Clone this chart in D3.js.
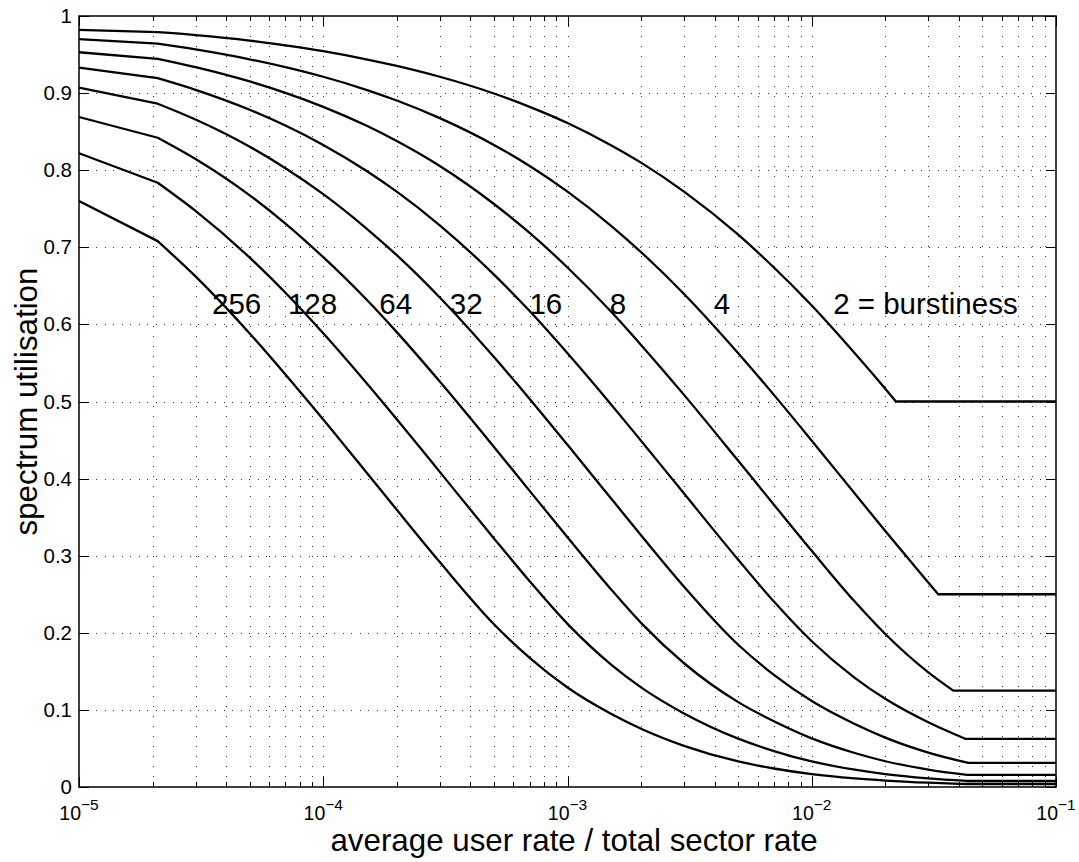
<!DOCTYPE html>
<html>
<head>
<meta charset="utf-8">
<script src="https://cdn.jsdelivr.net/npm/d3@7"></script>
<style>
  html, body { margin: 0; padding: 0; background: #fff; }
  svg text { font-family: "Liberation Sans", Arial, Helvetica, sans-serif; fill: #000; }
</style>
</head>
<body>
<svg id="chart" width="1079" height="862"></svg>
<script>
// ---- data -------------------------------------------------------------
// burstiness of each curve
const burstiness = [2, 4, 8, 16, 32, 64, 128, 256];

// [average user rate / total sector rate, spectrum utilisation]
const curve2 = [[1e-5,0.982],[2.1e-5,0.979],[3e-5,0.9753],[5e-5,0.9682],[7e-5,0.9620],[1e-4,0.9544],[1.5e-4,0.9439],[2e-4,0.9353],[3e-4,0.9212],[5e-4,0.8995],[7e-4,0.8822],[1e-3,0.8612],[1.5e-3,0.8328],[2e-3,0.8098],[3e-3,0.7722],[5e-3,0.7163],[7e-3,0.6738],[1e-2,0.6245],[1.5e-2,0.5626],[2e-2,0.5166],[0.0221,0.5],[0.1,0.5]];
const curve4 = [[1e-5,0.970],[2.1e-5,0.9641],[3e-5,0.9567],[5e-5,0.9439],[7e-5,0.9337],[1e-4,0.9212],[1.5e-4,0.9043],[2e-4,0.8904],[3e-4,0.8676],[5e-4,0.8328],[7e-4,0.8055],[1e-3,0.7722],[1.5e-3,0.7285],[2e-3,0.6938],[3e-3,0.6395],[5e-3,0.5626],[7e-3,0.5086],[1e-2,0.4492],[1.5e-2,0.3806],[2e-2,0.3320],[3e-2,0.2651],[0.0329,0.25],[0.1,0.25]];
const curve8 = [[1e-5,0.953],[2.1e-5,0.9445],[3e-5,0.9337],[5e-5,0.9151],[7e-5,0.9004],[1e-4,0.8822],[1.5e-4,0.8579],[2e-4,0.8379],[3e-4,0.8055],[5e-4,0.7562],[7e-4,0.7186],[1e-3,0.6738],[1.5e-3,0.6173],[2e-3,0.5734],[3e-3,0.5086],[5e-3,0.4231],[7e-3,0.3662],[1e-2,0.3063],[1.5e-2,0.2405],[2e-2,0.1984],[3e-2,0.1487],[0.0380,0.125],[0.1,0.125]];
const curve16 = [[1e-5,0.933],[2.1e-5,0.9194],[3e-5,0.9043],[5e-5,0.8784],[7e-5,0.8579],[1e-4,0.8328],[1.5e-4,0.7993],[2e-4,0.7722],[3e-4,0.7285],[5e-4,0.6646],[7e-4,0.6173],[1e-3,0.5626],[1.5e-3,0.4972],[2e-3,0.4492],[3e-3,0.3806],[5e-3,0.2948],[7e-3,0.2405],[1e-2,0.1890],[1.5e-2,0.1416],[2e-2,0.1144],[3e-2,0.0839],[0.0425,0.0625],[0.1,0.0625]];
const curve32 = [[1e-5,0.907],[2.1e-5,0.8862],[3e-5,0.8657],[5e-5,0.8304],[7e-5,0.8026],[1e-4,0.7690],[1.5e-4,0.7247],[2e-4,0.6898],[3e-4,0.6349],[5e-4,0.5576],[7e-4,0.5033],[1e-3,0.4438],[1.5e-3,0.3752],[2e-3,0.3266],[3e-3,0.2598],[5e-3,0.1845],[7e-3,0.1454],[1e-2,0.1115],[1.5e-2,0.0817],[2e-2,0.0641],[3e-2,0.0447],[0.0438,0.03125],[0.1,0.03125]];
const curve64 = [[1e-5,0.869],[2.1e-5,0.8421],[3e-5,0.8145],[5e-5,0.7674],[7e-5,0.7308],[1e-4,0.6872],[1.5e-4,0.6326],[2e-4,0.5900],[3e-4,0.5259],[5e-4,0.4411],[7e-4,0.3841],[1e-3,0.3239],[1.5e-3,0.2572],[2e-3,0.2129],[3e-3,0.1605],[5e-3,0.1101],[7e-3,0.0853],[1e-2,0.0631],[1.5e-2,0.0441],[2e-2,0.0334],[3e-2,0.0226],[0.0433,0.015625],[0.1,0.015625]];
const curve128 = [[1e-5,0.822],[2.1e-5,0.7837],[3e-5,0.7472],[5e-5,0.6866],[7e-5,0.6411],[1e-4,0.5886],[1.5e-4,0.5244],[2e-4,0.4771],[3e-4,0.4087],[5e-4,0.3224],[7e-4,0.2669],[1e-3,0.2116],[1.5e-3,0.1594],[2e-3,0.1292],[3e-3,0.0954],[5e-3,0.0627],[7e-3,0.0466],[1e-2,0.0331],[1.5e-2,0.0224],[2e-2,0.0167],[3e-2,0.0112],[0.0431,0.0078125],[0.1,0.0078125]];
const curve256 = [[1e-5,0.760],[2.1e-5,0.7080],[3e-5,0.6622],[5e-5,0.5882],[7e-5,0.5351],[1e-4,0.4767],[1.5e-4,0.4083],[2e-4,0.3596],[3e-4,0.2917],[5e-4,0.2111],[7e-4,0.1674],[1e-3,0.1290],[1.5e-3,0.0953],[2e-3,0.0756],[3e-3,0.0534],[5e-3,0.0331],[7e-3,0.0240],[1e-2,0.0167],[1.5e-2,0.0112],[2e-2,0.0084],[3e-2,0.0056],[0.0430,0.00390625],[0.1,0.00390625]];
const seriesPoints = [curve2, curve4, curve8, curve16, curve32, curve64, curve128, curve256];

// in-plot annotations: text and anchor (centre x in data units, baseline y)
const labelTexts = ["256", "128", "64", "32", "16", "8", "4", "2 = burstiness"];
const labelX = [4.42e-5, 9.04e-5, 1.98e-4, 3.85e-4, 8.15e-4, 1.61e-3, 4.29e-3, 2.92e-2];
const labelY = 0.614;

// axes
const xDomain = [1e-5, 1e-1];
const xDecades = [1e-5, 1e-4, 1e-3, 1e-2, 1e-1];
const xExponents = ["\u22125", "\u22124", "\u22123", "\u22122", "\u22121"];
const yTicks = [0, 0.1, 0.2, 0.3, 0.4, 0.5, 0.6, 0.7, 0.8, 0.9, 1];
const xTitle = "average user rate / total sector rate";
const yTitle = "spectrum utilisation";

// ---- layout -----------------------------------------------------------
const W = 1079, H = 862;
const pLeft = 79, pRight = 1056, pTop = 16, pBottom = 787;
const FONT = "Liberation Sans, Arial, Helvetica, sans-serif";

const svg = d3.select("#chart");
svg.append("rect").attr("width", W).attr("height", H).attr("fill", "#fff");

const x = d3.scaleLog().domain(xDomain).range([pLeft, pRight]);
const y = d3.scaleLinear().domain([0, 1]).range([pBottom, pTop]);

// minor positions 2..9 within every decade
const xMinor = [];
for (let i = 0; i < xDecades.length - 1; i++) {
  for (let m = 2; m <= 9; m++) xMinor.push(m * xDecades[i]);
}
const xGrid = xMinor.concat(xDecades.slice(1, -1));

// ---- dotted grid ------------------------------------------------------
const grid = svg.append("g").attr("stroke", "#333").attr("stroke-width", 1)
  .attr("shape-rendering", "crispEdges");
grid.selectAll("line.v").data(xGrid).join("line")
  .attr("class", "v")
  .attr("x1", d => Math.round(x(d)) + 0.5).attr("x2", d => Math.round(x(d)) + 0.5)
  .attr("y1", pTop).attr("y2", pBottom)
  .attr("stroke-dasharray", "1,9");
grid.selectAll("line.h").data(yTicks.slice(1, -1)).join("line")
  .attr("class", "h")
  .attr("y1", d => Math.round(y(d)) + 0.5).attr("y2", d => Math.round(y(d)) + 0.5)
  .attr("x1", pLeft).attr("x2", pRight)
  .attr("stroke-dasharray", "1,7.5");

// ---- curves -----------------------------------------------------------
const line = d3.line().x(d => x(d[0])).y(d => y(d[1]));
function curvePath(pts) {
  // straight first step, smooth body, straight plateau after the knee
  const knee = pts.length - 2;
  const head = line.curve(d3.curveLinear)(pts.slice(0, 2));
  const body = line.curve(d3.curveMonotoneX)(pts.slice(1, knee + 1));
  const tail = line.curve(d3.curveLinear)(pts.slice(knee));
  return head + body.replace(/^M/, "L") + tail.replace(/^M/, "L");
}
svg.append("g").selectAll("path").data(seriesPoints).join("path")
  .attr("d", d => curvePath(d))
  .attr("fill", "none").attr("stroke", "#000").attr("stroke-width", 2.3)
  .attr("stroke-linejoin", "round");

// ---- annotations ------------------------------------------------------
svg.append("g").selectAll("text").data(labelTexts).join("text")
  .attr("x", (d, i) => x(labelX[i]))
  .attr("y", y(labelY))
  .attr("text-anchor", "middle")
  .attr("font-size", 29.5)
  .text(d => d);

// ---- axes / ticks -----------------------------------------------------
function styleAxis(g) {
  g.select(".domain").remove();
  g.selectAll(".tick line").attr("stroke", "#000").attr("stroke-width", 1)
    .attr("shape-rendering", "crispEdges");
  g.attr("font-family", FONT);
}
// bottom major + minor
svg.append("g").attr("transform", `translate(0,${pBottom})`)
  .call(d3.axisBottom(x).tickValues(xDecades).tickSizeInner(-10).tickSizeOuter(0).tickFormat(""))
  .call(styleAxis);
svg.append("g").attr("transform", `translate(0,${pBottom})`)
  .call(d3.axisBottom(x).tickValues(xMinor).tickSizeInner(-5).tickSizeOuter(0).tickFormat(""))
  .call(styleAxis);
// top major + minor
svg.append("g").attr("transform", `translate(0,${pTop})`)
  .call(d3.axisTop(x).tickValues(xDecades).tickSizeInner(-10).tickSizeOuter(0).tickFormat(""))
  .call(styleAxis);
svg.append("g").attr("transform", `translate(0,${pTop})`)
  .call(d3.axisTop(x).tickValues(xMinor).tickSizeInner(-5).tickSizeOuter(0).tickFormat(""))
  .call(styleAxis);
// left with labels, right ticks only
const yAxisL = svg.append("g").attr("transform", `translate(${pLeft},0)`)
  .call(d3.axisLeft(y).tickValues(yTicks).tickSizeInner(-10).tickSizeOuter(0)
    .tickPadding(7).tickFormat(d3.format("")))
  .call(styleAxis);
yAxisL.selectAll(".tick text").attr("font-size", 20.5).attr("fill", "#000");
svg.append("g").attr("transform", `translate(${pRight},0)`)
  .call(d3.axisRight(y).tickValues(yTicks).tickSizeInner(-10).tickSizeOuter(0).tickFormat(""))
  .call(styleAxis);

// x tick labels as 10^n
const xLab = svg.append("g").selectAll("text").data(xDecades).join("text")
  .attr("x", d => x(d)).attr("y", 819.5)
  .attr("text-anchor", "middle").attr("font-size", 19.5);
xLab.append("tspan").text("10");
xLab.append("tspan").attr("dy", -9.5).attr("font-size", 15.5)
  .text((d, i) => xExponents[i]);

// plot box
svg.append("rect")
  .attr("x", pLeft).attr("y", pTop)
  .attr("width", pRight - pLeft).attr("height", pBottom - pTop)
  .attr("fill", "none").attr("stroke", "#000").attr("stroke-width", 1.5);

// titles
svg.append("text").attr("x", 574).attr("y", 851)
  .attr("text-anchor", "middle").attr("font-size", 31.3).text(xTitle);
svg.append("text").attr("transform", `translate(37,${(pTop + pBottom) / 2}) rotate(-90)`)
  .attr("text-anchor", "middle").attr("font-size", 31.3).text(yTitle);
</script>
</body>
</html>
